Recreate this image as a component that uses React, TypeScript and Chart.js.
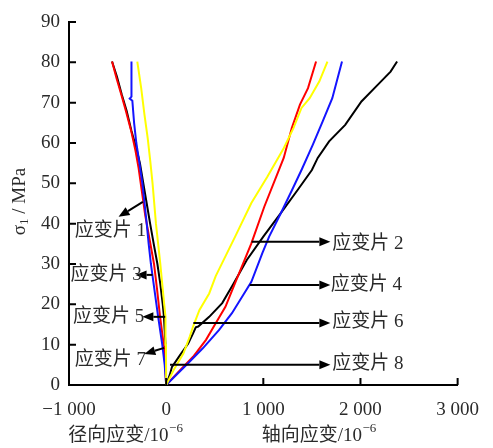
import React, { useEffect, useRef } from "react";
import { Chart, registerables } from "chart.js";

Chart.register(...registerables);

// ---- axes ----
const xTickValues = [-1000, 0, 1000, 2000, 3000];
const xTickLabels = ["−1 000", "0", "1 000", "2 000", "3 000"];
const yTickValues = [0, 10, 20, 30, 40, 50, 60, 70, 80, 90];
const yTickLabels = ["0", "10", "20", "30", "40", "50", "60", "70", "80", "90"];

// ---- radial strain (径向应变, 10^-6) vs stress (MPa) ----
const radialBlackStrain = [0, -3, -7, -23, -35, -60, -90, -128, -165, -200, -235, -270, -307, -357, -407, -457, -507, -557];
const radialBlackStress = [0, 5, 10, 17, 20, 25, 30, 35, 40, 45, 50, 55, 58.7, 63, 68, 72, 76.5, 80.2];

const radialRedStrain = [0, -10, -25, -63, -95, -125, -170, -215, -250, -285, -315, -360, -415, -462, -510, -557];
const radialRedStress = [0, 5, 10, 17, 24, 30, 36, 42, 48, 54, 58, 63, 68, 72, 76, 80.2];

const radialBlueStrain = [0, -15, -40, -83, -100, -157, -180, -200, -222, -245, -275, -307, -330, -348, -375, -357, -357];
const radialBlueStress = [0, 5, 10, 17, 20, 30, 35, 40, 45, 50, 55, 60, 65, 70.5, 71, 71.5, 80.2];

const radialYellowStrain = [0, -2, -7, -20, -60, -105, -140, -163, -190, -223, -257, -297];
const radialYellowStress = [0, 10, 17, 20, 30, 40, 50, 55.4, 61.2, 67, 73.6, 80.2];

// ---- axial strain (轴向应变, 10^-6) vs stress (MPa) ----
const axialBlackStrain = [0, 37, 60, 143, 227, 277, 305, 330, 443, 577, 690, 830, 1000, 1180, 1355, 1500, 1560, 1677, 1843, 2010, 2177, 2310, 2377];
const axialBlackStress = [0, 2.5, 4.5, 7.4, 10.3, 12.8, 14.3, 14.5, 16.9, 20.3, 25, 31, 36.8, 42.6, 48.4, 53.3, 56.3, 60.4, 64.5, 70.3, 74.4, 77.7, 80.2];

const axialRedStrain = [0, 143, 277, 410, 510, 610, 705, 877, 1010, 1160, 1210, 1293, 1377, 1460, 1543];
const axialRedStress = [0, 3.7, 7, 11.2, 15.3, 19.4, 25, 35.1, 44.2, 53.3, 56.3, 63.7, 69.5, 73.6, 80.2];

const axialYellowStrain = [0, 77, 177, 243, 277, 343, 443, 510, 710, 877, 1043, 1210, 1310, 1393, 1477, 1577, 1660];
const axialYellowStress = [0, 3.7, 7.8, 12, 14.5, 18.6, 22.7, 27, 36.8, 45.1, 51.7, 58.7, 63.7, 68.7, 71.1, 75.3, 80.2];

const axialBlueStrain = [0, 210, 377, 543, 677, 793, 877, 990, 1060, 1180, 1297, 1393, 1510, 1610, 1710, 1810];
const axialBlueStress = [0, 5, 9.1, 13.6, 17.8, 22.3, 25.6, 32.7, 36.8, 42.6, 48.4, 53.3, 59.6, 65.3, 71.1, 80.2];

// ---- gauge labels ----
const gaugeLabels = ["应变片 1", "应变片 3", "应变片 5", "应变片 7", "应变片 2", "应变片 4", "应变片 6", "应变片 8"];

// arrow start / end and text anchor, in data units
const gaugeCallouts = [
  { from: [-240, 45.4], to: [-490, 41.7], text: [-940, 38.2] },
  { from: [-140, 27.3], to: [-315, 27.3], text: [-985, 27.3] },
  { from: [-10, 16.9], to: [-245, 16.9], text: [-960, 16.9] },
  { from: [-20, 9.2], to: [-225, 7.7], text: [-940, 6.2] },
  { from: [880, 35.5], to: [1690, 35.5], text: [1710, 34.9] },
  { from: [860, 24.8], to: [1690, 24.8], text: [1695, 24.8] },
  { from: [280, 15.4], to: [1690, 15.4], text: [1710, 15.6] },
  { from: [40, 5], to: [1690, 5], text: [1710, 5.2] },
];

const SERIF = '"Liberation Serif", "Times New Roman", serif';
const MIXED = '"Liberation Serif", "Noto Sans CJK SC", serif';
const TEXT_COLOR = "#2a2a2a";

function pts(xs: number[], ys: number[]) {
  return xs.map((x, i) => ({ x, y: ys[i] }));
}

function lineDs(xs: number[], ys: number[], color: string) {
  return {
    data: pts(xs, ys),
    borderColor: color,
    backgroundColor: color,
    borderWidth: 2,
    pointRadius: 0,
    showLine: true,
    tension: 0,
    fill: false,
  };
}

const overlayPlugin = {
  id: "overlay",
  afterDraw(chart: any) {
    const ctx = chart.ctx as CanvasRenderingContext2D;
    const xs = chart.scales.x;
    const ys = chart.scales.y;
    const area = chart.chartArea;
    ctx.save();
    // inward tick marks
    ctx.strokeStyle = "#000";
    ctx.lineWidth = 2;
    ctx.beginPath();
    yTickValues.forEach((v) => {
      if (v === 0) return;
      const py = ys.getPixelForValue(v);
      ctx.moveTo(area.left, py);
      ctx.lineTo(area.left + 7, py);
    });
    xTickValues.forEach((v) => {
      if (v === xTickValues[0]) return;
      const px = xs.getPixelForValue(v);
      ctx.moveTo(px, area.bottom);
      ctx.lineTo(px, area.bottom - 7);
    });
    ctx.stroke();

    // callouts
    gaugeCallouts.forEach((c, i) => {
      const x0 = xs.getPixelForValue(c.from[0]);
      const y0 = ys.getPixelForValue(c.from[1]);
      const x1 = xs.getPixelForValue(c.to[0]);
      const y1 = ys.getPixelForValue(c.to[1]);
      const ang = Math.atan2(y1 - y0, x1 - x0);
      const hl = 11;
      const hw = 4.5;
      const bx = x1 - hl * Math.cos(ang);
      const by = y1 - hl * Math.sin(ang);
      ctx.strokeStyle = "#000";
      ctx.lineWidth = 2;
      ctx.beginPath();
      ctx.moveTo(x0, y0);
      ctx.lineTo(bx, by);
      ctx.stroke();
      ctx.fillStyle = "#000";
      ctx.beginPath();
      ctx.moveTo(x1, y1);
      ctx.lineTo(bx + hw * Math.sin(ang), by - hw * Math.cos(ang));
      ctx.lineTo(bx - hw * Math.sin(ang), by + hw * Math.cos(ang));
      ctx.closePath();
      ctx.fill();
      ctx.font = `19px ${MIXED}`;
      ctx.fillStyle = TEXT_COLOR;
      ctx.textAlign = "left";
      ctx.textBaseline = "middle";
      ctx.fillText(gaugeLabels[i], xs.getPixelForValue(c.text[0]), ys.getPixelForValue(c.text[1]));
    });

    // x-axis titles with superscript
    const drawSup = (main: string, sup: string, cx: number, cy: number) => {
      ctx.font = `19px ${MIXED}`;
      const w1 = ctx.measureText(main).width;
      ctx.font = `13px ${SERIF}`;
      const w2 = ctx.measureText(sup).width;
      const start = cx - (w1 + w2) / 2;
      ctx.fillStyle = TEXT_COLOR;
      ctx.textAlign = "left";
      ctx.textBaseline = "middle";
      ctx.font = `19px ${MIXED}`;
      ctx.fillText(main, start, cy);
      ctx.font = `13px ${SERIF}`;
      ctx.fillText(sup, start + w1 + 0.5, cy - 7);
    };
    const ty = area.bottom + 51;
    drawSup("径向应变/10", "−6", xs.getPixelForValue(-420), ty);
    drawSup("轴向应变/10", "−6", xs.getPixelForValue(1570), ty);

    // y-axis title
    ctx.translate(area.left - 49, ys.getPixelForValue(45.5));
    ctx.rotate(-Math.PI / 2);
    ctx.font = `19px ${SERIF}`;
    const wS = ctx.measureText("σ").width;
    const wRest = ctx.measureText(" / MPa").width;
    ctx.font = `13px ${SERIF}`;
    const wOne = ctx.measureText("1").width;
    let sx = -(wS + wOne + wRest) / 2;
    ctx.fillStyle = TEXT_COLOR;
    ctx.textAlign = "left";
    ctx.textBaseline = "middle";
    ctx.font = `19px ${SERIF}`;
    ctx.fillText("σ", sx, 0);
    sx += wS;
    ctx.font = `13px ${SERIF}`;
    ctx.fillText("1", sx, 5);
    sx += wOne;
    ctx.font = `19px ${SERIF}`;
    ctx.fillText(" / MPa", sx, 0);
    ctx.restore();
  },
};

export default function App() {
  const ref = useRef<HTMLCanvasElement | null>(null);

  useEffect(() => {
    if (!ref.current) return;
    const chart = new Chart(ref.current, {
      type: "scatter",
      data: {
        datasets: [
          lineDs(radialYellowStrain, radialYellowStress, "#ffff00"),
          lineDs(axialYellowStrain, axialYellowStress, "#ffff00"),
          lineDs(radialBlueStrain, radialBlueStress, "#1414ff"),
          lineDs(axialBlueStrain, axialBlueStress, "#1414ff"),
          lineDs(radialRedStrain, radialRedStress, "#ff0000"),
          lineDs(axialRedStrain, axialRedStress, "#ff0000"),
          lineDs(radialBlackStrain, radialBlackStress, "#000000"),
          lineDs(axialBlackStrain, axialBlackStress, "#000000"),
        ] as any,
      },
      options: {
        animation: false,
        responsive: false,
        maintainAspectRatio: false,
        layout: { padding: { left: 0, right: 24, top: 22, bottom: 0 } },
        plugins: {
          legend: { display: false },
          tooltip: { enabled: false },
        },
        scales: {
          x: {
            type: "linear",
            min: -1000,
            max: 3000,
            afterFit: (s: any) => {
              s.height = 63;
            },
            afterBuildTicks: (s: any) => {
              s.ticks = xTickValues.map((v) => ({ value: v }));
            },
            grid: { display: false, drawTicks: false },
            border: { display: true, color: "#000", width: 2 },
            ticks: {
              padding: 14,
              color: TEXT_COLOR,
              font: { family: SERIF, size: 19 },
              maxRotation: 0,
              autoSkip: false,
              callback: (v: any) => {
                const i = xTickValues.indexOf(Number(v));
                return i >= 0 ? xTickLabels[i] : "";
              },
            },
          },
          y: {
            type: "linear",
            min: 0,
            max: 90,
            afterFit: (s: any) => {
              s.width = 69;
            },
            afterBuildTicks: (s: any) => {
              s.ticks = yTickValues.map((v) => ({ value: v }));
            },
            grid: { display: false, drawTicks: false },
            border: { display: true, color: "#000", width: 2 },
            ticks: {
              padding: 9,
              color: TEXT_COLOR,
              font: { family: SERIF, size: 19 },
              autoSkip: false,
              callback: (v: any) => {
                const i = yTickValues.indexOf(Number(v));
                return i >= 0 ? yTickLabels[i] : "";
              },
            },
          },
        },
      } as any,
      plugins: [overlayPlugin],
    });
    return () => chart.destroy();
  }, []);

  return (
    <div style={{ position: "fixed", left: 0, top: 0, width: 493, height: 448, background: "#fff" }}>
      <canvas ref={ref} width={493} height={448} style={{ display: "block" }} />
    </div>
  );
}
